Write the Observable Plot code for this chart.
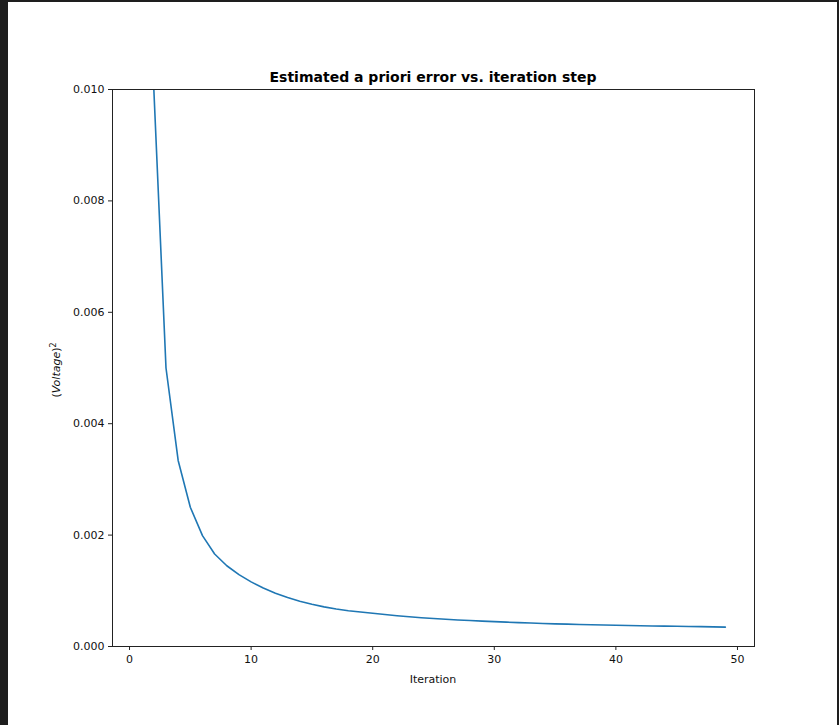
<!DOCTYPE html>
<html>
<head>
<meta charset="utf-8">
<script src="https://cdn.jsdelivr.net/npm/d3@7"></script>
<script src="https://cdn.jsdelivr.net/npm/@observablehq/plot@0.6"></script>
<style>
  html, body { margin: 0; padding: 0; background: #1e1e1e; }
  #wrap { position: relative; width: 839px; height: 725px; overflow: hidden; background: #1e1e1e; }
  #panel { position: absolute; left: 8px; top: 2px; width: 829px; height: 723px; background: #ffffff; }
</style>
</head>
<body>
<div id="wrap"><div id="panel"></div></div>
<script>
const titleText = "Estimated a priori error vs. iteration step";
const xLabelText = "Iteration";
const iterations = [1,2,3,4,5,6,7,8,9,10,11,12,13,14,15,16,17,18,19,20,21,22,23,24,25,26,27,28,29,30,31,32,33,34,35,36,37,38,39,40,41,42,43,44,45,46,47,48,49];
const errors = [0.0200,0.0100,0.0050,0.00334,0.00250,0.00199,0.00166,0.00145,0.00129,0.00116,
  0.00105,0.000958,0.000878,0.000812,0.000757,0.000712,0.000674,0.000643,0.000618,0.000596,
  0.000574,0.000553,0.000534,0.000517,0.000502,0.000489,0.000477,0.000466,0.000456,0.000446,
  0.000437,0.000429,0.000421,0.000414,0.000407,0.000401,0.000396,0.000391,0.000386,0.000381,
  0.000377,0.000373,0.000369,0.000366,0.000363,0.000359,0.000356,0.000352,0.000348];
const xTicks = [0,10,20,30,40,50];
const yTicks = [0,0.002,0.004,0.006,0.008,0.010];

const data = iterations.map((it, i) => ({it, err: errors[i]}));

const W = 829, H = 723, mL = 104, mT = 87, mR = 83, mB = 79;

const chart = Plot.plot({
  width: W, height: H,
  marginLeft: mL, marginTop: mT, marginRight: mR, marginBottom: mB,
  style: {fontFamily: "DejaVu Sans", fontSize: "11px", background: "transparent", color: "#111", overflow: "visible"},
  x: {domain: [-1.4, 51.4]},
  y: {domain: [0, 0.01]},
  marks: [
    Plot.line(data, {x: "it", y: "err", stroke: "#1f77b4", strokeWidth: 1.6, clip: true}),
    Plot.frame({stroke: "#222", strokeWidth: 1}),
    Plot.axisX(xTicks, {tickSize: 4, tickPadding: 5, label: null, stroke: "#222"}),
    Plot.axisY(yTicks, {tickSize: 4, tickPadding: 4, label: null, tickFormat: d3.format(".3f"), stroke: "#222"})
  ]
});
chart.style.position = "absolute";
chart.style.left = "8px";
chart.style.top = "2px";
document.getElementById("wrap").appendChild(chart);

const svg = d3.select(chart);
const cx = mL + (W - mL - mR) / 2;
svg.append("text")
  .attr("x", cx).attr("y", 80)
  .attr("text-anchor", "middle")
  .attr("font-family", "DejaVu Sans").attr("font-weight", "bold").attr("font-size", 14)
  .attr("fill", "#000")
  .text(titleText);
svg.append("text")
  .attr("x", cx).attr("y", 681)
  .attr("text-anchor", "middle")
  .attr("font-family", "DejaVu Sans").attr("font-size", 11)
  .attr("fill", "#111")
  .text(xLabelText);
const yl = svg.append("text")
  .attr("transform", `translate(52,${368}) rotate(-90)`)
  .attr("text-anchor", "middle")
  .attr("font-family", "DejaVu Sans").attr("font-size", 11)
  .attr("fill", "#111");
yl.append("tspan").text("(");
yl.append("tspan").attr("font-style", "italic").text("Voltage");
yl.append("tspan").text(")");
yl.append("tspan").attr("dy", -4.5).attr("font-size", 8).text("2");
</script>
</body>
</html>
